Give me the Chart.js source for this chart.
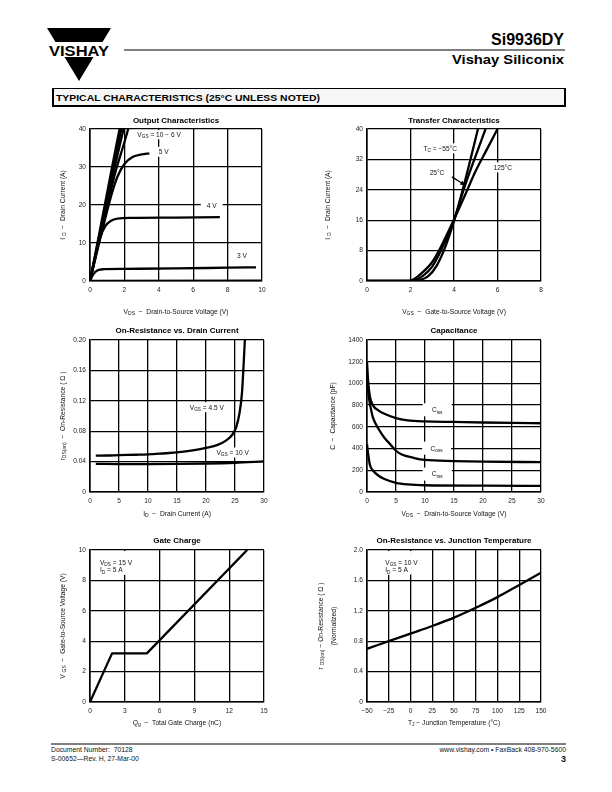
<!DOCTYPE html>
<html><head><meta charset="utf-8">
<script src="https://cdn.jsdelivr.net/npm/chart.js@4/dist/chart.umd.min.js"></script>
<style>
html,body{margin:0;padding:0;background:#fff;}
body{width:612px;height:792px;position:relative;overflow:hidden;font-family:"Liberation Sans",Arial,sans-serif;color:#000;}
canvas{position:absolute;}
svg{position:absolute;left:0;top:0;}
.t{position:absolute;font-weight:bold;font-size:8px;white-space:nowrap;transform:translate(-50%,-50%);}
.ax{position:absolute;font-size:6.7px;white-space:nowrap;transform:translate(-50%,-50%);color:#111;}
.ay{position:absolute;font-size:6.7px;white-space:nowrap;transform:translate(-50%,-50%) rotate(-90deg);color:#111;}
sub{font-size:75%;vertical-align:-0.3em;line-height:0;}
.ft{position:absolute;font-size:6.8px;white-space:nowrap;color:#111;line-height:8px;}
</style></head>
<body>
<svg width="612" height="792">
  <polygon points="47,28 111,28 79,81" fill="#000"/>
  <rect x="44" y="42" width="70" height="15" fill="#fff"/>
  <text x="49" y="55.5" font-family="Liberation Sans" font-weight="bold" font-size="14" textLength="60" lengthAdjust="spacingAndGlyphs">VISHAY</text>
  <line x1="124" y1="50" x2="565" y2="50" stroke="#000" stroke-width="1"/>
  <text x="564" y="45" text-anchor="end" font-family="Liberation Sans" font-weight="bold" font-size="16">Si9936DY</text>
  <text x="564" y="63.5" text-anchor="end" font-family="Liberation Sans" font-weight="bold" font-size="13.5" textLength="112" lengthAdjust="spacingAndGlyphs">Vishay Siliconix</text>
  <rect x="53" y="88.5" width="512" height="17" fill="#f6f6f6" stroke="#000" stroke-width="1"/>
  <line x1="53" y1="88" x2="53" y2="106.5" stroke="#000" stroke-width="2"/>
  <line x1="565" y1="88" x2="565" y2="106.5" stroke="#000" stroke-width="2"/>
  <line x1="52" y1="106" x2="566" y2="106" stroke="#000" stroke-width="2"/>
  <text x="56" y="101" font-family="Liberation Sans" font-weight="bold" font-size="9.5" textLength="264" lengthAdjust="spacingAndGlyphs">TYPICAL CHARACTERISTICS (25°C UNLESS NOTED)</text>
  <line x1="51" y1="744" x2="566" y2="744" stroke="#000" stroke-width="1"/>
</svg>
<div class="ft" style="left:51px;top:746px;">Document Number: &nbsp;70128</div>
<div class="ft" style="left:51px;top:755px;">S-00652—Rev. H, 27-Mar-00</div>
<div class="ft" style="right:46px;top:746px;">www.vishay.com • FaxBack 408-970-5600</div>
<div class="ft" style="right:46px;top:754px;font-weight:bold;font-size:9px;line-height:10px;">3</div>
<script>
// ---------------- DATA ----------------
// Output Characteristics (VDS, ID)
const outXTicks = [0,2,4,6,8,10];
const outXLabels = ['0','2','4','6','8','10'];
const outYTicks = [0,10,20,30,40];
const outYLabels = ['0','10','20','30','40'];
const outV10 = [[0,0],[0.5,11.6],[1,23.3],[1.5,35],[1.72,40]];
const outV8  = [[0,0],[0.5,11],[1,22],[1.5,33],[1.82,40]];
const outV7  = [[0,0],[0.5,10.6],[1,21],[1.5,31.2],[1.95,40]];
const outV6  = [[0,0],[0.5,10],[1,19.8],[1.5,29],[2,36.5],[2.22,40]];
const outV5  = [[0,0],[0.5,9.5],[1,18.5],[1.3,23.5],[1.6,27.5],[2,30.8],[2.5,32.7],[3,33.3],[3.45,33.6]];
const outV4  = [[0,0],[0.3,6],[0.6,11.5],[0.9,14.5],[1.2,15.8],[1.6,16.4],[2.5,16.6],[5,16.7],[7.55,16.8]];
const outV3  = [[0,0],[0.2,1.8],[0.45,2.8],[0.8,3.1],[2,3.2],[5,3.3],[8,3.5],[9.65,3.6]];
const outV2  = [[0,0.05],[10,0.1]];
const outNotes = [
  {x:2.75, y:38.6, text:'V_{GS} = 10 − 6 V', align:'left'},
  {x:4.0,  y:34.0, text:'5 V', align:'left'},
  {x:7.08, y:19.8, text:'4 V', align:'center', pad:6},
  {x:8.83, y:6.6,  text:'3 V', align:'center'}
];

// Transfer Characteristics (VGS, ID)
const trXTicks = [0,2,4,6,8];
const trXLabels = ['0','2','4','6','8'];
const trYTicks = [0,8,16,24,32,40];
const trYLabels = ['0','8','16','24','32','40'];
const trM55  = [[0,0],[2,0],[2.4,0.2],[2.8,1.2],[3.2,4],[3.6,9],[4,15.8],[4.4,24],[4.8,33],[5.1,40]];
const tr25   = [[0,0],[2,0],[2.2,0.2],[2.6,1.5],[3,3.8],[3.4,8],[4,16],[4.5,25],[5,33],[5.45,40]];
const tr125  = [[0,0],[1.9,0],[2.1,0.3],[2.5,2],[3,5],[3.4,9],[4,16.2],[4.5,22.5],[5,29],[5.5,34.5],[6,40]];
const trNotes = [
  {x:2.6,  y:34.9, text:'T_{C} = −55°C', align:'left'},
  {x:2.88, y:28.5, text:'25°C', align:'left'},
  {x:5.82, y:29.9, text:'125°C', align:'left'}
];
const trArrow = [[3.9,27.4],[4.52,25.2]];

// On-Resistance vs. Drain Current (ID, rDS(on))
const rdXTicks = [0,5,10,15,20,25,30];
const rdXLabels = ['0','5','10','15','20','25','30'];
const rdYTicks = [0,0.04,0.08,0.12,0.16,0.20];
const rdYLabels = ['0','0.04','0.08','0.12','0.16','0.20'];
const rdV45 = [[1,0.0478],[3,0.048],[5,0.0485],[8,0.049],[10,0.0495],[13,0.051],[15,0.052],[18,0.055],[20,0.058],[22,0.062],[23.5,0.068],[24.5,0.075],[25.2,0.085],[25.8,0.105],[26.2,0.13],[26.5,0.17],[26.7,0.20]];
const rdV10 = [[1,0.037],[5,0.0368],[10,0.0368],[15,0.037],[20,0.0375],[25,0.0385],[30,0.0403]];
const rdNotes = [
  {x:17.2, y:0.1116, text:'V_{GS} = 4.5 V', align:'left'},
  {x:21.8, y:0.052,  text:'V_{GS} = 10 V', align:'left'}
];

// Capacitance (VDS, C pF)
const capXTicks = [0,5,10,15,20,25,30];
const capXLabels = ['0','5','10','15','20','25','30'];
const capYTicks = [0,200,400,600,800,1000,1200,1400];
const capYLabels = ['0','200','400','600','800','1000','1200','1400'];
const capCiss = [[0,1200],[0.2,1020],[0.5,880],[1,800],[2,750],[3,720],[5,680],[7,660],[10,650],[15,645],[20,640],[25,636],[30,633]];
const capCoss = [[0,1050],[0.3,880],[0.7,760],[1,690],[2,580],[3,500],[4,440],[5,380],[6,345],[8,315],[10,295],[15,285],[20,280],[30,275]];
const capCrss = [[0,440],[0.2,350],[0.5,250],[1,200],[2,150],[3,120],[5,85],[7,70],[10,62],[20,58],[30,57]];
const capNotes = [
  {x:12.1, y:757, text:'C_{iss}', align:'center', box:[29,13]},
  {x:12.0, y:404, text:'C_{oss}', align:'center', box:[29,13]},
  {x:12.1, y:165, text:'C_{rss}', align:'center', box:[29,13]}
];

// Gate Charge (Qg nC, VGS)
const gcXTicks = [0,3,6,9,12,15];
const gcXLabels = ['0','3','6','9','12','15'];
const gcYTicks = [0,2,4,6,8,10];
const gcYLabels = ['0','2','4','6','8','10'];
const gcVgs = [[0,0],[1.9,3.2],[4.9,3.2],[13.55,10]];
const gcNotes = [
  {x:0.86, y:9.2, text:'V_{DS} = 15 V', align:'left'},
  {x:0.86, y:8.7, text:'I_{D} = 5 A', align:'left'}
];
const gcBlank = [[0.55,9.95,3.15,8.4]];

// On-Resistance vs. Junction Temperature (TJ, normalized rDS(on))
const tjXTicks = [-50,-25,0,25,50,75,100,125,150];
const tjXLabels = ['−50','−25','0','25','50','75','100','125','150'];
const tjYTicks = [0,0.4,0.8,1.2,1.6,2.0];
const tjYLabels = ['0','0.4','0.8','1.2','1.6','2.0'];
const tjR = [[-50,0.70],[-25,0.80],[0,0.90],[25,1.0],[50,1.11],[75,1.24],[100,1.38],[125,1.54],[150,1.70]];
const tjNotes = [
  {x:-29, y:1.84, text:'V_{GS} = 10 V', align:'left'},
  {x:-29, y:1.74, text:'I_{D} = 5 A', align:'left'}
];
const tjBlank = [[-32,1.99,1.5,1.68]];

// ---------------- RENDERING ----------------
const FONT = '"Liberation Sans", Arial, sans-serif';
function splitRich(s){
  const out=[]; const re=/_\{([^}]*)\}/g; let last=0, m;
  while((m=re.exec(s))){ if(m.index>last) out.push({t:s.slice(last,m.index)}); out.push({t:m[1],sub:true}); last=re.lastIndex; }
  if(last<s.length) out.push({t:s.slice(last)});
  return out;
}
function richWidth(ctx, parts, size){
  let w=0; parts.forEach(p=>{ctx.font=(p.sub?size*0.72:size)+'px '+FONT; w+=ctx.measureText(p.t).width;}); return w;
}
const SIZE=6.6;
const notesPlugin = {
  id:'notes',
  beforeDatasetsDraw(chart, args, opts){
    const {ctx, scales:{x,y}, chartArea:ca} = chart;
    ctx.save();
    ctx.beginPath(); ctx.rect(ca.left+1, ca.top+1, ca.right-ca.left-2, ca.bottom-ca.top-2); ctx.clip();
    ctx.fillStyle='#fff';
    (opts.blanks||[]).forEach(b=>{
      const x0=x.getPixelForValue(b[0]), y0=y.getPixelForValue(b[1]), x1=x.getPixelForValue(b[2]), y1=y.getPixelForValue(b[3]);
      ctx.fillRect(x0,y0,x1-x0,y1-y0);
    });
    (opts.items||[]).forEach(n=>{
      const parts=splitRich(n.text); const w=richWidth(ctx,parts,SIZE);
      const px=x.getPixelForValue(n.x), py=y.getPixelForValue(n.y);
      if(n.box){ ctx.fillRect(px-n.box[0]/2, py-n.box[1]/2, n.box[0], n.box[1]); return; }
      const pad=n.pad||2.5;
      const x0 = n.align==='center'? px-w/2 : px;
      ctx.fillRect(x0-pad, py-5, w+2*pad, 10);
    });
    ctx.restore();
  },
  afterDatasetsDraw(chart, args, opts){
    const {ctx, scales:{x,y}} = chart;
    ctx.save();
    ctx.fillStyle='#111'; ctx.textBaseline='alphabetic'; ctx.textAlign='left';
    (opts.items||[]).forEach(n=>{
      const parts=splitRich(n.text); const w=richWidth(ctx,parts,SIZE);
      const px=x.getPixelForValue(n.x), py=y.getPixelForValue(n.y);
      let cx = n.align==='center'? px-w/2 : px;
      const base = py+SIZE*0.36;
      parts.forEach(p=>{
        const s = p.sub?SIZE*0.72:SIZE;
        ctx.font=s+'px '+FONT;
        ctx.fillText(p.t, cx, p.sub?base+1.6:base);
        cx += ctx.measureText(p.t).width;
      });
    });
    if(opts.arrow){
      const a=opts.arrow;
      const x0=x.getPixelForValue(a[0][0]), y0=y.getPixelForValue(a[0][1]);
      const x1=x.getPixelForValue(a[1][0]), y1=y.getPixelForValue(a[1][1]);
      ctx.strokeStyle='#000'; ctx.lineWidth=1.2;
      ctx.beginPath(); ctx.moveTo(x0,y0); ctx.lineTo(x1,y1); ctx.stroke();
      const ang=Math.atan2(y1-y0,x1-x0), L=5, W=2.2;
      ctx.beginPath(); ctx.moveTo(x1+Math.cos(ang)*1,y1+Math.sin(ang)*1);
      ctx.lineTo(x1-L*Math.cos(ang)+W*Math.sin(ang), y1-L*Math.sin(ang)-W*Math.cos(ang));
      ctx.lineTo(x1-L*Math.cos(ang)-W*Math.sin(ang), y1-L*Math.sin(ang)+W*Math.cos(ang));
      ctx.closePath(); ctx.fillStyle='#000'; ctx.fill();
    }
    ctx.restore();
  }
};

function axisCfg(ticksV, labels, min, max, isX){
  return {
    type:'linear', min:min, max:max,
    afterBuildTicks: s => { s.ticks = ticksV.map(v=>({value:v})); },
    ticks:{ callback:(v,i)=>labels[i], autoSkip:false, maxRotation:0, minRotation:0,
      font:{family:FONT, size:6.6}, color:'#222', padding: isX?5:4 },
    grid:{ color:'#000', lineWidth:1.3, drawTicks:false },
    border:{ color:'#000', width:1.6 },
    afterFit: s => { if(isX){ s.height=24; s.paddingLeft=0; s.paddingRight=0; } else { s.width=40; s.paddingTop=0; s.paddingBottom=0; } }
  };
}

function makeChart(area, xt, xl, yt, yl, series, pluginOpts, mode){
  const padT=10, padR=12, yW=40, xH=24;
  const w = area.r-area.l+yW+padR, h = area.b-area.t+padT+xH;
  const cv=document.createElement('canvas');
  cv.width=w; cv.height=h;
  cv.style.left=(area.l-yW)+'px'; cv.style.top=(area.t-padT)+'px';
  cv.style.width=w+'px'; cv.style.height=h+'px';
  document.body.appendChild(cv);
  new Chart(cv.getContext('2d'), {
    type:'scatter',
    data:{ datasets: series.map(d=>({
      data:d.map(p=>({x:p[0], y:p[1]})), showLine:true, borderColor:'#000', backgroundColor:'#000',
      borderWidth:2.3, pointRadius:0, fill:false,
      cubicInterpolationMode: mode==='linear'?'default':'monotone', tension: 0,
      borderCapStyle:'butt', borderJoinStyle:'round'
    })) },
    options:{
      responsive:false, animation:false, devicePixelRatio:1, events:[],
      layout:{ padding:{ top:padT, right:padR, left:0, bottom:0 } },
      plugins:{ legend:{display:false}, tooltip:{enabled:false}, title:{display:false}, notes:pluginOpts },
      scales:{
        x: axisCfg(xt, xl, xt[0], xt[xt.length-1], true),
        y: axisCfg(yt, yl, yt[0], yt[yt.length-1], false)
      }
    },
    plugins:[notesPlugin]
  });
}

function addText(cls, html, x, y){
  const d=document.createElement('div'); d.className=cls; d.innerHTML=html;
  d.style.left=x+'px'; d.style.top=y+'px'; document.body.appendChild(d);
}

// chart areas (layout)
const A1={l:90,r:262,t:129,b:281}, A2={l:367,r:541,t:129,b:281};
const A3={l:90,r:264,t:340,b:492}, A4={l:367,r:541,t:340,b:492};
const A5={l:90,r:264,t:550,b:702}, A6={l:367,r:541,t:550,b:702};

makeChart(A1, outXTicks, outXLabels, outYTicks, outYLabels,
  [outV10,outV8,outV7,outV6,outV5,outV4,outV3,outV2], {items:outNotes});
makeChart(A2, trXTicks, trXLabels, trYTicks, trYLabels,
  [trM55,tr25,tr125], {items:trNotes, arrow:trArrow});
makeChart(A3, rdXTicks, rdXLabels, rdYTicks, rdYLabels,
  [rdV45,rdV10], {items:rdNotes});
makeChart(A4, capXTicks, capXLabels, capYTicks, capYLabels,
  [capCiss,capCoss,capCrss], {items:capNotes});
makeChart(A5, gcXTicks, gcXLabels, gcYTicks, gcYLabels,
  [gcVgs], {items:gcNotes, blanks:gcBlank}, 'linear');
makeChart(A6, tjXTicks, tjXLabels, tjYTicks, tjYLabels,
  [tjR], {items:tjNotes, blanks:tjBlank});

// titles
addText('t','Output Characteristics',176,120);
addText('t','Transfer Characteristics',454,120);
addText('t','On-Resistance vs. Drain Current',177,330);
addText('t','Capacitance',454,330);
addText('t','Gate Charge',177,540);
addText('t','On-Resistance vs. Junction Temperature',454,540);
// axis titles
addText('ax','V<sub>DS</sub> &nbsp;−&nbsp; Drain-to-Source Voltage (V)',176,311);
addText('ay','I <sub>D</sub> &nbsp;−&nbsp; Drain Current (A)',61.5,205);
addText('ax','V<sub>GS</sub> &nbsp;−&nbsp; Gate-to-Source Voltage (V)',454,311);
addText('ay','I <sub>D</sub> &nbsp;−&nbsp; Drain Current (A)',327,205);
addText('ax','I<sub>D</sub> &nbsp;−&nbsp; Drain Current (A)',177,513);
addText('ay','r<sub>DS(on)</sub> &nbsp;−&nbsp; On-Resistance ( Ω )',61.5,416);
addText('ax','V<sub>DS</sub> &nbsp;−&nbsp; Drain-to-Source Voltage (V)',454,513);
addText('ay','C &nbsp;−&nbsp; Capacitance (pF)',332,416);
addText('ax','Q<sub>g</sub> &nbsp;−&nbsp; Total Gate Charge (nC)',177,722);
addText('ay','V <sub>GS</sub> &nbsp;−&nbsp; Gate-to-Source Voltage (V)',61.5,626);
addText('ax','T<sub>J</sub> − Junction Temperature (°C)',454,722);
addText('ay','r <sub>DS(on)</sub> − On-Resistance ( Ω )',320,626);
addText('ay','(Normalized)',333,626);
</script>
</body></html>
